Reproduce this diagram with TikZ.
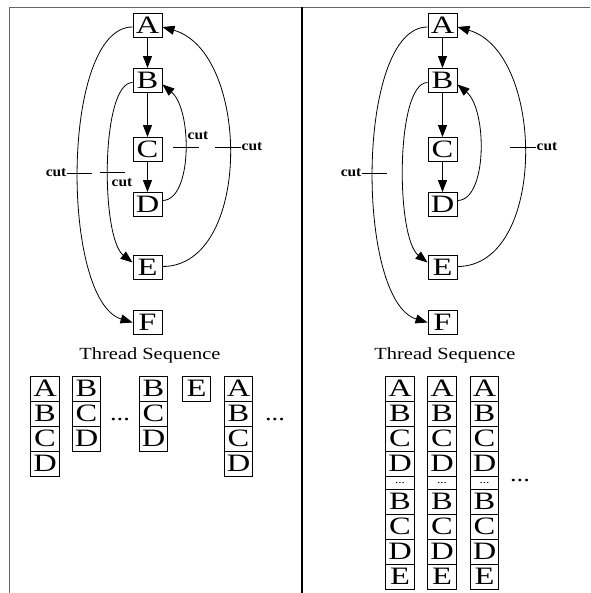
\documentclass[tikz,border=0pt]{standalone}
\usepackage{fontspec}
\setmainfont{Liberation Serif}
\usetikzlibrary{arrows.meta}
\newfontfamily\lettfont{Liberation Serif}[FakeStretch=1.3]
\newfontfamily\capfont{Liberation Serif}[FakeStretch=1.2]
\newfontfamily\cutfont{Liberation Serif Bold}[FakeStretch=1.1]
\newcommand\lett{\lettfont\fontsize{25}{25}\selectfont}
\newcommand\capt{\capfont\fontsize{17}{17}\selectfont}
\newcommand\cutf{\cutfont\fontsize{14}{14}\selectfont}
\newcommand\dotf{\capfont\fontsize{22}{22}\selectfont}
\newcommand\smalldotf{\capfont\fontsize{11}{11}\selectfont}

\tikzset{
  box/.style={draw, line width=0.9pt, minimum width=29pt, minimum height=24pt,
    inner sep=0pt, font=\lett},
  cell/.style={draw, line width=0.9pt, minimum width=28.5pt, minimum height=25pt,
    inner sep=0pt, font=\lett},
  dotcell/.style={draw, line width=0.9pt, minimum width=28.5pt, minimum height=13pt,
    inner sep=0pt, text height=2pt, text depth=0pt, font=\smalldotf},
  edge/.style={line width=0.8pt, -{Triangle[length=12pt,width=9pt]}},
  cutline/.style={line width=0.8pt},
  cutlbl/.style={inner sep=0.5pt, font=\cutf},
  caption/.style={inner sep=0pt, font=\capt},
  more/.style={inner sep=0pt, font=\dotf},
}

% The control-flow graph with its back edges; #1 prefixes the node names
\newcommand\flowgraph[1]{
  \node[box] (#1A) at (147.5,25)  {A};
  \node[box] (#1B) at (147.5,80.5) {B};
  \node[box] (#1C) at (147.5,149.5) {C};
  \node[box] (#1D) at (147.5,204.5) {D};
  \node[box] (#1E) at (147.5,267.5) {E};
  \node[box] (#1F) at (147.5,322.5) {F};
  \draw[edge] (#1A) -- (#1B);
  \draw[edge] (#1B) -- (#1C);
  \draw[edge] (#1C) -- (#1D);
  \draw[edge] ([yshift=-2pt]#1A.west) .. controls +(-72,0) and +(-72,-22) .. (#1F.west);
  \draw[edge] ([yshift=-2pt]#1B.west) .. controls +(-32,0) and +(-32,-25) .. ([yshift=5pt]#1E.west);
  \draw[edge] ([yshift=4pt]#1D.east) .. controls +(30,0) and +(30,25) .. ([yshift=-4pt]#1B.east);
  \draw[edge] ([yshift=1pt]#1E.east) .. controls +(90,0) and +(88,25) .. ([yshift=-2pt]#1A.east);
  \node[caption, anchor=base] (#1cap) at (150,359) {Thread Sequence};
  \node[cutlbl, anchor=east] (#1cutL) at (67,173) {cut};
  \draw[cutline] (#1cutL.east) -- ++(25,0);
  \node[cutlbl, anchor=west] (#1cutR) at (241,147) {cut};
  \draw[cutline] (#1cutR.west) -- ++(-26,0);
}

\begin{document}
\begin{tikzpicture}[x=1pt,y=-1pt]
\useasboundingbox (0,0) rectangle (590,593);

% frame and divider
\draw[line width=1.3pt, black!60] (9.5,593) -- (9.5,7.5) -- (590,7.5);
\draw[line width=2pt] (302,7.5) -- (302,593);

% left panel: all back edges cut
\flowgraph{l}
\node[cutlbl] (lcutB) at (122,182.5) {cut};
\draw[cutline] (100,172.5) -- (125,172.5);
\node[cutlbl] (lcutD) at (198,136) {cut};
\draw[cutline] (173,147) -- (199,147);

% left thread sequence
\foreach \n/\y in {A/388.5,B/413.5,C/438.5,D/463.5} {
  \node[cell] (s1\n) at (45,\y) {\n};
  \node[cell] (s5\n) at (238.5,\y) {\n};
}
\foreach \n/\y in {B/388.5,C/413.5,D/438.5} {
  \node[cell] (s2\n) at (86.5,\y) {\n};
  \node[cell] (s3\n) at (153.5,\y) {\n};
}
\node[cell] (s4E) at (196.5,388.5) {E};
\node[more] (ldots1) at (120,420) {...};
\node[more] (ldots2) at (275,420) {...};

% right panel: only the outer back edges cut
\begin{scope}[xshift=295pt]
\flowgraph{r}
\end{scope}

% right thread sequence
\foreach \c/\x in {1/400,2/442,3/484.5} {
  \foreach \n/\y in {A/388.5,B/413.5,C/438.5,D/463.5} {
    \node[cell] (t\c\n) at (\x,\y) {\n};
  }
  \node[dotcell] (t\c dots) at (\x,482.5) {...};
  \foreach \n/\y in {B/501.5,C/526.5,D/551.5,E/576.5} {
    \node[cell] (t\c\n2) at (\x,\y) {\n};
  }
}
\node[more] (rdots) at (520,481) {...};
\end{tikzpicture}
\end{document}
